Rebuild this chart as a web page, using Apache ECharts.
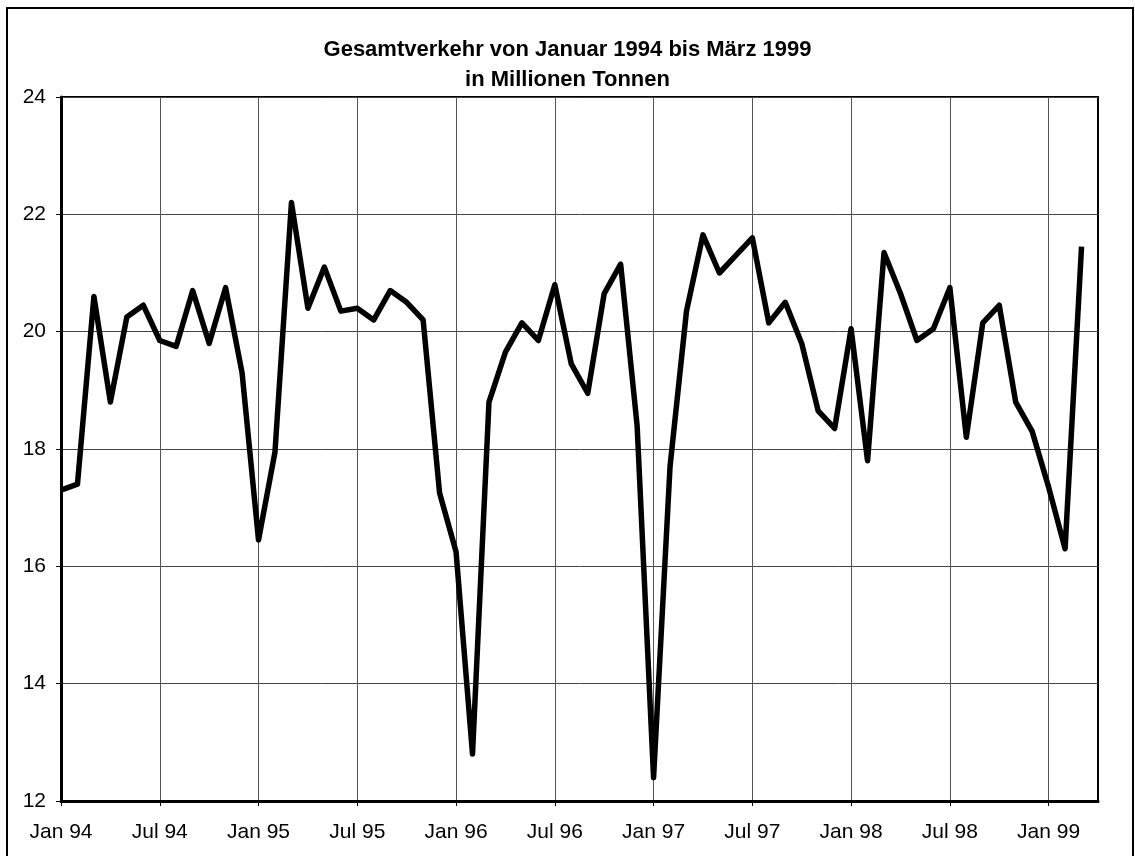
<!DOCTYPE html>
<html>
<head>
<meta charset="utf-8">
<script src="https://cdn.jsdelivr.net/npm/echarts@6/dist/echarts.min.js"></script>
<style>
  html, body { margin: 0; padding: 0; background: #fff; }
  #chart { width: 1135px; height: 856px; }
</style>
</head>
<body>
<div id="chart"></div>
<script>
// months Jan 94 .. Apr 99 (last slot empty, as in the original axis)
const monthNames = ['Jan', 'Feb', 'Mär', 'Apr', 'Mai', 'Jun', 'Jul', 'Aug', 'Sep', 'Okt', 'Nov', 'Dez']
const years = ['94', '95', '96', '97', '98', '99']

// Gesamtverkehr, Mio. t
const values1994 = [17.3, 17.4, 20.6, 18.8, 20.25, 20.45, 19.85, 19.75, 20.7, 19.8, 20.75, 19.3]
const values1995 = [16.45, 17.95, 22.2, 20.4, 21.1, 20.35, 20.4, 20.2, 20.7, 20.5, 20.2, 17.25]
const values1996 = [16.25, 12.8, 18.8, 19.65, 20.15, 19.85, 20.8, 19.45, 18.95, 20.65, 21.15, 18.4]
const values1997 = [12.4, 17.7, 20.35, 21.65, 21.0, 21.3, 21.6, 20.15, 20.5, 19.8, 18.65, 18.35]
const values1998 = [20.05, 17.8, 21.35, 20.65, 19.85, 20.05, 20.75, 18.2, 20.15, 20.45, 18.8, 18.3]
const values1999 = [17.35, 16.3, 21.45]

const yTicks = { min: 12, max: 24, step: 2 }

const categories = []
years.forEach((y) => {
  monthNames.forEach((m, i) => {
    if (y === '99' && i > 3) return
    categories.push((i === 6 ? 'Jul' : m) + ' ' + y)
  })
})
const values = [].concat(values1994, values1995, values1996, values1997, values1998, values1999, ['-'])

const font = 'Liberation Sans, Arial, sans-serif'

const chart = echarts.init(document.getElementById('chart'))
const option = {
  animation: false,
  backgroundColor: '#fff',
  title: {
    text: 'Gesamtverkehr von Januar 1994 bis März 1999\nin Millionen Tonnen',
    left: 'center',
    top: 30,
    textStyle: {
      fontFamily: font,
      fontSize: 22,
      fontWeight: 'bold',
      color: '#000',
      lineHeight: 30
    }
  },
  graphic: [
    {
      type: 'rect',
      shape: { x: 7, y: 8, width: 1126, height: 870 },
      style: { fill: 'none', stroke: '#000', lineWidth: 2 },
      silent: true
    }
  ],
  grid: {
    left: 61,
    right: 37,
    top: 97,
    bottom: 55,
    show: true,
    borderColor: '#000',
    borderWidth: 2
  },
  xAxis: {
    type: 'category',
    data: categories,
    boundaryGap: false,
    axisLine: { lineStyle: { color: '#000', width: 3 } },
    axisTick: { interval: 5, length: 5, lineStyle: { color: '#000' } },
    axisLabel: {
      interval: 5,
      margin: 21,
      color: '#000',
      fontSize: 21,
      fontFamily: font
    },
    splitLine: { show: true, interval: 5, lineStyle: { color: '#555', width: 1 } }
  },
  yAxis: {
    type: 'value',
    min: yTicks.min,
    max: yTicks.max,
    interval: yTicks.step,
    axisLine: { show: true, lineStyle: { color: '#000', width: 3 } },
    axisTick: { show: true, length: 5, lineStyle: { color: '#000' } },
    axisLabel: {
      margin: 15,
      color: '#000',
      fontSize: 21,
      fontFamily: font
    },
    splitLine: { show: true, lineStyle: { color: '#444', width: 1 } }
  },
  series: [
    {
      type: 'line',
      name: 'Gesamtverkehr',
      data: values,
      showSymbol: false,
      lineStyle: { color: '#000', width: 5.5, join: 'round' }
    }
  ]
}
chart.setOption(option)
</script>
</body>
</html>
